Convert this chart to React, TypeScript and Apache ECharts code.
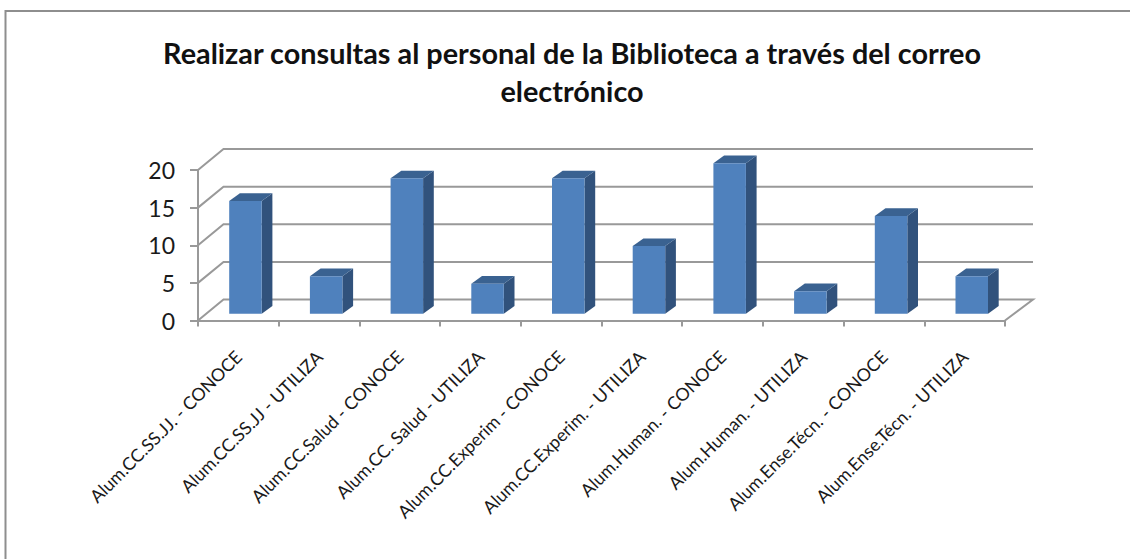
import React, { useEffect, useRef } from "react";
import * as echarts from "echarts";

const titleText = "Realizar consultas al personal de la Biblioteca a través del correo\nelectrónico";
const categories = [
  "Alum.CC.SS.JJ. - CONOCE",
  "Alum.CC.SS.JJ - UTILIZA",
  "Alum.CC.Salud - CONOCE",
  "Alum.CC. Salud - UTILIZA",
  "Alum.CC.Experim - CONOCE",
  "Alum.CC.Experim. - UTILIZA",
  "Alum.Human. - CONOCE",
  "Alum.Human. - UTILIZA",
  "Alum.Ense.Técn. - CONOCE",
  "Alum.Ense.Técn. - UTILIZA",
];
const values = [15, 5, 18, 4, 18, 9, 20, 3, 13, 5];
const yTicks = [0, 5, 10, 15, 20];

const FONT = "Lato, Carlito, sans-serif";
const GRID_COLOR = "#999999";
const GRID_W = 2;
const WALL_DX = 25.5;
const WALL_DY = -21;
const BAR_DX = 7;
const BAR_DY = -6.7;
const BAR_W = 32.5;
const SIDE_DX = 10.7;
const SIDE_DY = -7.7;

export default function App() {
  const ref = useRef<HTMLDivElement>(null);
  useEffect(() => {
    document.body.style.margin = "0";
    const chart = echarts.init(ref.current!, null, { renderer: "svg" });
    chart.setOption({
      animation: false,
      backgroundColor: "#ffffff",
      title: {
        text: titleText,
        left: 567,
        top: 29,
        textAlign: "center",
        textStyle: {
          fontFamily: FONT,
          fontSize: 28.8,
          fontWeight: "bold",
          color: "#111111",
          lineHeight: 38,
        },
      },
      graphic: [
        {
          type: "polyline",
          silent: true,
          shape: { points: [[5.5, 559], [5.5, 11], [1130, 11]] },
          style: { stroke: "#8e8e8e", lineWidth: 2, fill: "none" },
        },
      ],
      grid: { left: 198, top: 170, width: 807, height: 150.5 },
      xAxis: {
        type: "category",
        data: categories,
        boundaryGap: true,
        axisLine: { show: true, lineStyle: { color: GRID_COLOR, width: GRID_W } },
        axisTick: { show: true, length: 6, lineStyle: { color: GRID_COLOR, width: GRID_W } },
        axisLabel: {
          interval: 0,
          rotate: 45,
          margin: 33,
          fontFamily: FONT,
          fontSize: 17.8,
          color: "#1a1a1a",
        },
      },
      yAxis: {
        type: "value",
        min: 0,
        max: 20,
        interval: 5,
        splitLine: { show: false },
        axisLine: { show: true, lineStyle: { color: GRID_COLOR, width: GRID_W } },
        axisTick: { show: true, length: 8, lineStyle: { color: GRID_COLOR, width: GRID_W } },
        axisLabel: { margin: 23, fontFamily: FONT, fontSize: 23, color: "#1a1a1a" },
      },
      series: [
        {
          type: "custom",
          z: 1,
          silent: true,
          data: yTicks.map((v) => [0, v]),
          renderItem: (params: any, api: any) => {
            const v = api.value(1);
            const cs = params.coordSys;
            const y = api.coord([0, v])[1];
            const left = cs.x;
            const right = cs.x + cs.width;
            const pts: number[][] = [
              [left, y],
              [left + WALL_DX, y + WALL_DY],
              [right + WALL_DX + 2.5, y + WALL_DY],
            ];
            if (v === 0) pts.push([right, y]);
            return {
              type: "polyline",
              shape: { points: pts },
              style: { stroke: GRID_COLOR, lineWidth: GRID_W, fill: "none" },
            };
          },
        },
        {
          type: "custom",
          z: 2,
          silent: true,
          data: values.map((v, i) => [i, v]),
          renderItem: (_params: any, api: any) => {
            const i = api.value(0);
            const top = api.coord([i, api.value(1)]);
            const base = api.coord([i, 0]);
            const x0 = base[0] - 40.35 + 31.2 + BAR_DX - 7;
            const x1 = x0 + BAR_W;
            const yt = top[1] + BAR_DY;
            const yb = base[1] + BAR_DY;
            return {
              type: "group",
              children: [
                {
                  type: "polygon",
                  shape: { points: [[x1, yt], [x1 + SIDE_DX, yt + SIDE_DY], [x1 + SIDE_DX, yb + SIDE_DY], [x1, yb]] },
                  style: { fill: "#31527c" },
                },
                {
                  type: "polygon",
                  shape: { points: [[x0, yt], [x0 + SIDE_DX, yt + SIDE_DY], [x1 + SIDE_DX, yt + SIDE_DY], [x1, yt]] },
                  style: { fill: "#3a6291" },
                },
                {
                  type: "rect",
                  shape: { x: x0, y: yt, width: BAR_W, height: yb - yt },
                  style: { fill: "#4f81bd" },
                },
              ],
            };
          },
        },
      ],
    });
    return () => chart.dispose();
  }, []);
  return <div ref={ref} style={{ width: 1130, height: 559 }} />;
}
